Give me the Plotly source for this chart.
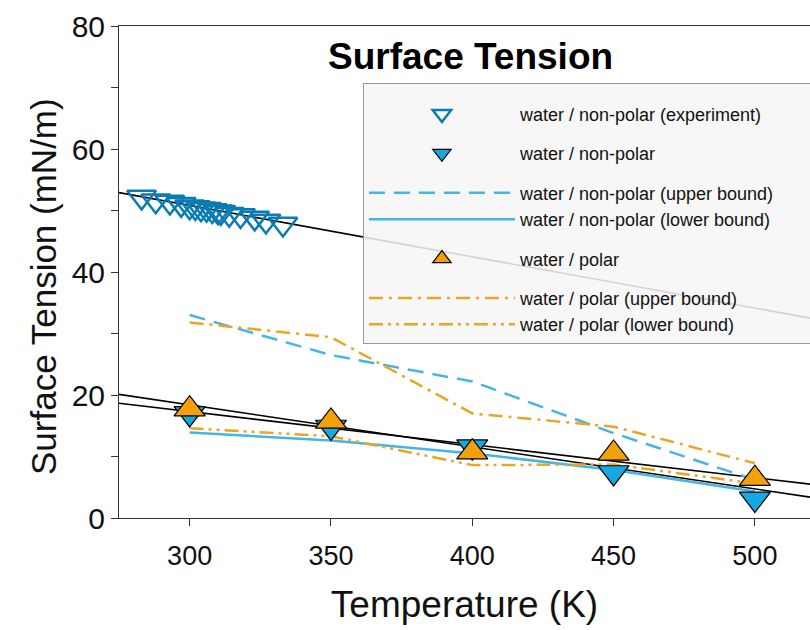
import plotly.graph_objects as go

# ---------------- data ----------------
exp_T = [283, 288, 293, 297, 300, 302, 304, 306, 308, 310, 311, 314, 318, 323, 327, 333]
exp_ST = [52.2, 51.6, 51.4, 51.0, 50.6, 50.5, 50.3, 50.2, 50.0, 49.8, 49.7, 49.4, 49.2, 48.8, 48.3, 47.8]

sim_T = [300, 350, 400, 450, 500]
nonpolar_ST = [17.0, 14.8, 11.6, 7.4, 3.1]
nonpolar_upper = [33.0, 26.5, 22.2, 13.8, 6.2]
nonpolar_lower = [13.9, 12.6, 10.5, 7.8, 4.3]
polar_ST = [17.7, 15.7, 10.7, 10.5, 6.4]
polar_upper = [31.8, 29.4, 17.0, 14.85, 8.9]
polar_lower = [14.6, 13.3, 8.6, 8.7, 5.6]

# straight fit lines, end points read at the left and right plot edges
fit_T = [275, 519.5]
fit_exp = [52.9, 32.5]
fit_nonpolar = [20.1, 3.4]
fit_polar = [18.65, 5.5]

x_ticks = [300, 350, 400, 450, 500]

# ---------------- styles ----------------
FONT = "Liberation Sans, Arial, Helvetica, sans-serif"
EXP_BLUE = "#0a7bb3"
FILL_BLUE = "#17a7e2"
LINE_BLUE = "#45b5e6"
ORANGE = "#f2a10c"
LINE_ORANGE = "#eba424"

fig = go.Figure()

# fit lines (drawn first, beneath everything)
for ys in (fit_exp, fit_nonpolar, fit_polar):
    fig.add_trace(go.Scatter(x=fit_T, y=ys, mode="lines",
                             line=dict(color="black", width=1.6),
                             showlegend=False, hoverinfo="skip"))

fig.add_trace(go.Scatter(x=sim_T, y=nonpolar_upper, mode="lines",
                         name="water / non-polar (upper bound)",
                         legendgroup="g3", legendrank=3,
                         line=dict(color=LINE_BLUE, width=2.5, dash="16px,9px")))
fig.add_trace(go.Scatter(x=sim_T, y=nonpolar_lower, mode="lines",
                         name="water / non-polar (lower bound)",
                         legendgroup="g3", legendrank=4,
                         line=dict(color=LINE_BLUE, width=2.5)))
fig.add_trace(go.Scatter(x=sim_T, y=polar_upper, mode="lines",
                         name="water / polar (upper bound)",
                         legendgroup="g5", legendrank=6,
                         line=dict(color=LINE_ORANGE, width=2.5, dash="14px,6px,3px,6px")))
fig.add_trace(go.Scatter(x=sim_T, y=polar_lower, mode="lines",
                         name="water / polar (lower bound)",
                         legendgroup="g5", legendrank=7,
                         line=dict(color=LINE_ORANGE, width=2.5,
                                   dash="14px,5px,3px,5px,3px,5px")))

fig.add_trace(go.Scatter(x=exp_T, y=exp_ST, mode="markers",
                         name="water / non-polar (experiment)",
                         legendgroup="g1", legendrank=1,
                         marker=dict(symbol="triangle-down-open", size=25,
                                     color=EXP_BLUE, line=dict(color=EXP_BLUE, width=2.5))))
fig.add_trace(go.Scatter(x=sim_T, y=nonpolar_ST, mode="markers",
                         name="water / non-polar",
                         legendgroup="g2", legendrank=2,
                         marker=dict(symbol="triangle-down", size=27,
                                     color=FILL_BLUE, line=dict(color="black", width=1.2))))
fig.add_trace(go.Scatter(x=sim_T, y=polar_ST, mode="markers",
                         name="water / polar",
                         legendgroup="g4", legendrank=5,
                         marker=dict(symbol="triangle-up", size=27,
                                     color=ORANGE, line=dict(color="black", width=1.2))))

fig.update_layout(
    width=810, height=630,
    margin=dict(l=119, r=0, t=26, b=112, autoexpand=False),
    paper_bgcolor="white", plot_bgcolor="white",
    font=dict(family=FONT, color="#111"),
    legend=dict(
        x=0.353, y=0.884, xanchor="left", yanchor="top",
        bgcolor="rgba(246,246,246,0.86)", bordercolor="#9a9a9a", borderwidth=1,
        font=dict(family=FONT, size=18, color="#111"),
        title=dict(text="\u00a0" * 190, font=dict(size=9)),
        traceorder="grouped", tracegroupgap=13, itemwidth=146,
    ),
    xaxis=dict(
        range=[275, 519.5], tickmode="array", tickvals=x_ticks,
        ticks="outside", ticklen=7, tickcolor="#333", ticklabelstandoff=7,
        showline=True, linecolor="#333", linewidth=1, mirror=True,
        showgrid=False, zeroline=False, automargin=False,
        tickfont=dict(size=27, color="#111"),
        title=dict(text="Temperature (K)", font=dict(size=37, color="#111"), standoff=20),
    ),
    yaxis=dict(
        range=[0, 80], tick0=0, dtick=20,
        ticks="outside", ticklen=7, tickcolor="#333",
        minor=dict(dtick=10, ticks="outside", ticklen=7, tickcolor="#333"),
        showline=True, linecolor="#333", linewidth=1,
        showgrid=False, zeroline=False, automargin=False,
        tickfont=dict(size=30, color="#111"),
    ),
    annotations=[
        dict(text="<b>Surface Tension</b>", x=0.508, y=0.937, xref="paper", yref="paper",
             xanchor="center", yanchor="middle", showarrow=False,
             font=dict(family=FONT, size=37, color="black")),
        dict(text="Surface Tension (mN/m)", x=-0.11, y=0.4715, xref="paper", yref="paper",
             xanchor="center", yanchor="middle", showarrow=False, textangle=-90,
             font=dict(family=FONT, size=35, color="#111")),
    ],
)

fig.write_html("out.html", config={"displayModeBar": False},
               post_script="document.body.style.margin='0';document.body.style.overflow='hidden';")
